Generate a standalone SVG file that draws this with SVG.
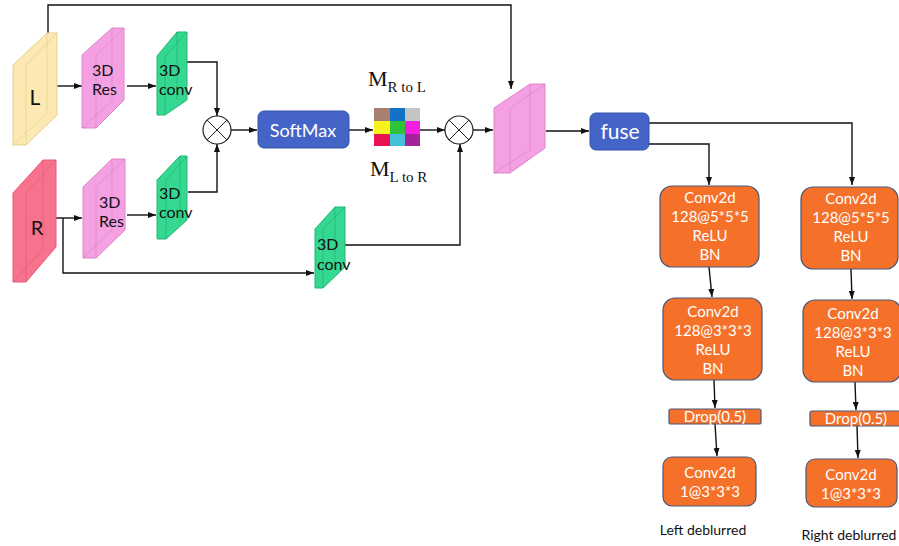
<svg xmlns="http://www.w3.org/2000/svg" width="899" height="546" viewBox="0 0 899 546">
<style>
.ln{fill:none;stroke:#111;stroke-width:1.4}
.arr{marker-end:url(#ah)}
.slab{stroke-width:1;stroke-linejoin:round}
.hid{fill:none;stroke-width:0.8;opacity:0.35}
.yel{fill:#fce8b2;stroke:#e6d08e}
.red{fill:#f7728c;stroke:#e85a76}
.pink{fill:#f4a0e2;stroke:#dc86c9}
.grn{fill:#34d890;stroke:#22b774}
.lbl{font-family:Lato,"Open Sans",sans-serif;fill:#111}
.sl{font-size:16px}
.blue{fill:#4464c8;stroke:#3550a8;stroke-width:1}
.wt{font-family:Lato,"Open Sans",sans-serif;fill:#fff;text-anchor:middle}
.org{fill:#f5712a;stroke:#4a5878;stroke-width:1.2}
.ot{font-family:Lato,"Open Sans",sans-serif;fill:#fff;text-anchor:middle;font-size:15px}
.mt{font-family:"Liberation Serif",serif;fill:#111}
.circ{fill:#fff;stroke:#222;stroke-width:1.2}
.cap{font-family:Lato,"Open Sans",sans-serif;fill:#111;text-anchor:middle;font-size:14px}
</style>
<defs>
<marker id="ah" markerWidth="8" markerHeight="6" refX="8" refY="3" orient="auto" markerUnits="userSpaceOnUse">
<path d="M0,0 L8,3 L0,6 z" fill="#111"/>
</marker>
</defs>
<rect width="899" height="546" fill="#fff"/>

<g id="connectors">
<polyline class="ln arr" points="48,37 48,5 511,5 511,89"/>
<line class="ln arr" x1="53" y1="86" x2="82" y2="86"/>
<line class="ln arr" x1="127" y1="86" x2="156" y2="86"/>
<polyline class="ln arr" points="187,62 217,62 217,116"/>
<polyline class="ln arr" points="188,192 217,192 217,144"/>
<line class="ln arr" x1="53" y1="218" x2="82" y2="218"/>
<polyline class="ln arr" points="63,218 63,273 314,273"/>
<line class="ln arr" x1="127" y1="215" x2="156" y2="215"/>
<polyline class="ln arr" points="343,245 460,245 460,144"/>
<line class="ln arr" x1="231" y1="130" x2="257" y2="130"/>
<line class="ln arr" x1="349" y1="130" x2="373" y2="130"/>
<line class="ln arr" x1="420" y1="130" x2="445" y2="130"/>
<line class="ln arr" x1="473" y1="130" x2="493" y2="130"/>
<line class="ln arr" x1="546" y1="131" x2="589" y2="131"/>
<polyline class="ln arr" points="649,123 852,123 852,185"/>
<polyline class="ln arr" points="649,144 709,144 709,185"/>
<line class="ln arr" x1="709" y1="267" x2="712" y2="297"/>
<line class="ln arr" x1="851" y1="269" x2="852" y2="299"/>
<line class="ln arr" x1="714" y1="380" x2="715" y2="408"/>
<line class="ln arr" x1="855" y1="382" x2="856" y2="410"/>
<line class="ln arr" x1="715" y1="424" x2="717" y2="456"/>
<line class="ln arr" x1="857" y1="426" x2="858" y2="458"/>
</g>

<g id="L">
<polygon class="slab yel" points="13,65 47,33 57,33 57,115 26,145 13,145"/>
<path class="hid" stroke="#c8a860" d="M26,65 L57,33 M26,65 L26,145 M47,33 L47,113 L13,145"/>
<text class="lbl" x="35" y="105" font-size="21" text-anchor="middle">L</text>
</g>

<g id="R">
<polygon class="slab red" points="13,193 43,160 56,160 56,247 26,282 13,282"/>
<path class="hid" stroke="#c83a56" d="M26,193 L56,160 M26,193 L26,282 M43,160 L43,249 L13,282"/>
<text class="lbl" x="37" y="235" font-size="20" text-anchor="middle">R</text>
</g>

<g id="res-top">
<polygon class="slab pink" points="82,55 112,28 124,28 124,100 96,128 82,128"/>
<path class="hid" stroke="#b060a0" d="M96,55 L124,28 M96,55 L96,128 M112,28 L112,101 L82,128"/>
<text class="lbl sl" x="92" y="76">3D</text>
<text class="lbl sl" x="92" y="95">Res</text>
</g>

<g id="res-bottom">
<polygon class="slab pink" points="83,187 112,159 125,159 125,230 96,258 83,258"/>
<path class="hid" stroke="#b060a0" d="M96,187 L125,159 M96,187 L96,258 M112,159 L112,230 L83,258"/>
<text class="lbl sl" x="99" y="208">3D</text>
<text class="lbl sl" x="99" y="227">Res</text>
</g>

<g id="conv-top">
<polygon class="slab grn" points="157,56 177,32 187,32 187,100 165,115 157,115"/>
<path class="hid" stroke="#107a48" d="M165,56 L187,32 M165,56 L165,115 M177,32 L177,100"/>
<text class="lbl sl" x="159" y="76">3D</text>
<text class="lbl sl" x="159" y="95">conv</text>
</g>

<g id="conv-bottom">
<polygon class="slab grn" points="157,180 180,156 187,156 187,220 166,239 157,239"/>
<path class="hid" stroke="#107a48" d="M166,180 L187,156 M166,180 L166,239 M180,156 L180,222"/>
<text class="lbl sl" x="159" y="199">3D</text>
<text class="lbl sl" x="159" y="218">conv</text>
</g>

<g id="conv-r">
<polygon class="slab grn" points="315,229 335,207 345,207 345,267 323,288 315,288"/>
<path class="hid" stroke="#107a48" d="M323,229 L345,207 M323,229 L323,288 M335,207 L335,268"/>
<text class="lbl sl" x="317" y="250">3D</text>
<text class="lbl sl" x="317" y="270">conv</text>
</g>

<g id="mult1">
<circle class="circ" cx="217" cy="130" r="14"/>
<path d="M207,120 L227,140 M227,120 L207,140" stroke="#222" stroke-width="1"/>
</g>

<g id="softmax">
<rect class="blue" x="258" y="111" width="91" height="37" rx="6"/>
<text class="wt" x="303" y="137" font-size="18">SoftMax</text>
</g>

<g id="matrix">
<rect x="374" y="108" width="16" height="13" fill="#a9806f"/>
<rect x="390" y="108" width="15" height="13" fill="#1272c8"/>
<rect x="405" y="108" width="15" height="13" fill="#c4c4c4"/>
<rect x="374" y="121" width="16" height="13" fill="#f6f21e"/>
<rect x="390" y="121" width="15" height="13" fill="#2fc23a"/>
<rect x="405" y="121" width="15" height="13" fill="#f21ee0"/>
<rect x="374" y="134" width="16" height="12" fill="#ea1250"/>
<rect x="390" y="134" width="15" height="12" fill="#44c0da"/>
<rect x="405" y="134" width="15" height="12" fill="#a4229a"/>
<text class="mt" x="368" y="86" font-size="22">M<tspan font-size="15" dy="6">R to L</tspan></text>
<text class="mt" x="370" y="176" font-size="22">M<tspan font-size="15" dy="6">L to R</tspan></text>
</g>

<g id="mult2">
<circle class="circ" cx="459" cy="130" r="14"/>
<path d="M449,120 L469,140 M469,120 L449,140" stroke="#222" stroke-width="1"/>
</g>

<g id="fused-vol">
<polygon class="slab pink" points="494,108 530,84 545,84 545,148 510,173 494,173"/>
<path class="hid" stroke="#b060a0" d="M510,108 L545,84 M510,108 L510,173 M530,84 L530,150 L494,173"/>
</g>

<g id="fuse">
<rect class="blue" x="590" y="113" width="59" height="37" rx="6"/>
<text class="wt" x="620" y="139" font-size="21">fuse</text>
</g>

<g id="left-conv1">
<rect class="org" x="660" y="186" width="99" height="81" rx="12"/>
<text class="ot" x="710" y="203">Conv2d</text>
<text class="ot" x="710" y="222">128@5*5*5</text>
<text class="ot" x="710" y="241">ReLU</text>
<text class="ot" x="710" y="260">BN</text>
</g>
<g id="right-conv1">
<rect class="org" x="801" y="187" width="97" height="82" rx="12"/>
<text class="ot" x="851" y="204">Conv2d</text>
<text class="ot" x="851" y="223">128@5*5*5</text>
<text class="ot" x="851" y="242">ReLU</text>
<text class="ot" x="851" y="261">BN</text>
</g>
<g id="left-conv2">
<rect class="org" x="663" y="298" width="99" height="82" rx="12"/>
<text class="ot" x="713" y="317">Conv2d</text>
<text class="ot" x="713" y="336">128@3*3*3</text>
<text class="ot" x="713" y="355">ReLU</text>
<text class="ot" x="713" y="374">BN</text>
</g>
<g id="right-conv2">
<rect class="org" x="803" y="300" width="98" height="82" rx="12"/>
<text class="ot" x="853" y="319">Conv2d</text>
<text class="ot" x="853" y="338">128@3*3*3</text>
<text class="ot" x="853" y="357">ReLU</text>
<text class="ot" x="853" y="376">BN</text>
</g>
<g id="left-drop">
<rect class="org" x="669" y="409" width="92" height="15" rx="2"/>
<text class="ot" x="715" y="421.5">Drop(0.5)</text>
</g>
<g id="right-drop">
<rect class="org" x="810" y="411" width="92" height="15" rx="2"/>
<text class="ot" x="856" y="423.5">Drop(0.5)</text>
</g>
<g id="left-conv3">
<rect class="org" x="663" y="457" width="93" height="49" rx="9"/>
<text class="ot" x="710" y="478">Conv2d</text>
<text class="ot" x="710" y="497">1@3*3*3</text>
</g>
<g id="right-conv3">
<rect class="org" x="806" y="459" width="91" height="48" rx="9"/>
<text class="ot" x="851" y="480">Conv2d</text>
<text class="ot" x="851" y="499">1@3*3*3</text>
</g>
<g id="captions">
<text class="cap" x="703" y="535">Left deblurred</text>
<text class="cap" x="849" y="540">Right deblurred</text>
</g>
</svg>
